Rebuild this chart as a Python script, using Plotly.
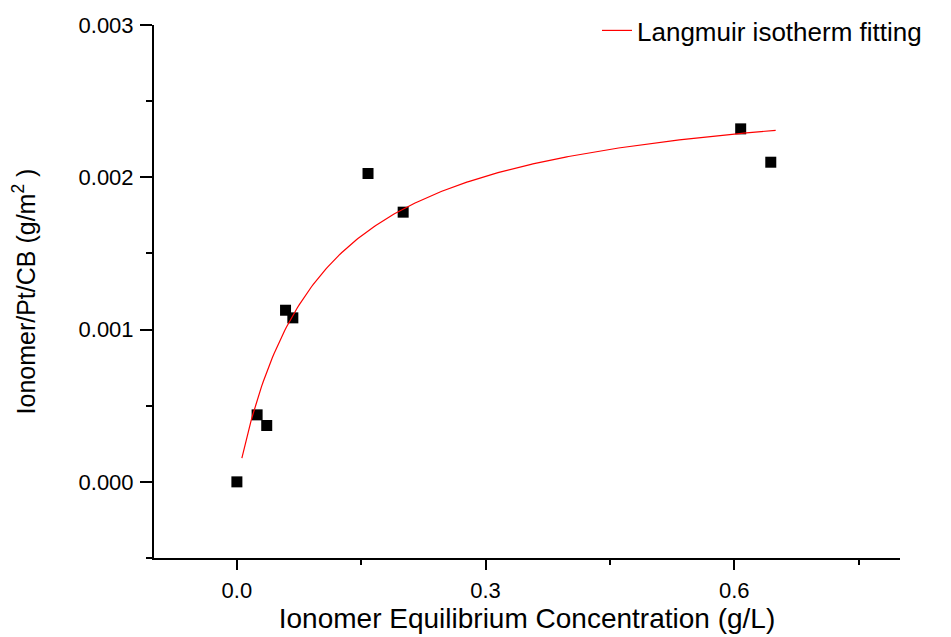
import numpy as np
import plotly.graph_objects as go

# Measured adsorption data
conc = [0.0, 0.0244, 0.0360, 0.0587, 0.0675, 0.1582, 0.2006, 0.6078, 0.6441]
adsorbed = [0.0, 0.000440, 0.000370, 0.001127, 0.001077, 0.002025, 0.001771, 0.002318, 0.002099]

# Langmuir fit parameters: q = qm*K*c / (1 + K*c)
qm = 0.00265
k_l = 10.4
fit_c_min, fit_c_max = 0.006, 0.65

fit_c = np.linspace(fit_c_min, fit_c_max, 300)
fit_q = qm * k_l * fit_c / (1 + k_l * fit_c)

FONT = "Liberation Sans, Arial, sans-serif"

fig = go.Figure()
fig.add_trace(go.Scatter(
    x=conc, y=adsorbed, mode="markers",
    marker=dict(symbol="square", size=11, color="black"),
    showlegend=False,
))
fig.add_trace(go.Scatter(
    x=fit_c, y=fit_q, mode="lines",
    line=dict(color="#ff0000", width=1.2),
    name="Langmuir isotherm fitting",
))

fig.update_layout(
    width=951, height=637,
    margin=dict(l=154, r=51, t=25, b=79, autoexpand=False),
    plot_bgcolor="white", paper_bgcolor="white",
    font=dict(family=FONT, color="black"),
    legend=dict(
        x=(597 - 154) / 746, y=0.989, yref="container",
        xanchor="left", yanchor="top",
        font=dict(size=26, family=FONT), bgcolor="rgba(0,0,0,0)",
    ),
    xaxis=dict(
        range=[-0.1, 0.8], tick0=0, dtick=0.3, tickformat=".1f",
        showgrid=False, zeroline=False, automargin=False,
        showline=True, linecolor="black", linewidth=2,
        ticks="outside", ticklen=10, tickwidth=2, tickcolor="black",
        minor=dict(dtick=0.15, tick0=0, ticks="outside", ticklen=5, tickwidth=2, tickcolor="black"),
        tickfont=dict(size=22),
        ticklabelstandoff=2,
        title=dict(text="Ionomer Equilibrium Concentration (g/L)", font=dict(size=28), standoff=5),
    ),
    yaxis=dict(
        range=[-0.0005, 0.003], tick0=0, dtick=0.001, tickformat=".3f",
        showgrid=False, zeroline=False, automargin=False,
        showline=True, linecolor="black", linewidth=2,
        ticks="outside", ticklen=12, tickwidth=2, tickcolor="black",
        minor=dict(dtick=0.0005, tick0=0, ticks="outside", ticklen=6, tickwidth=2, tickcolor="black"),
        tickfont=dict(size=22),
        ticklabelstandoff=2,
        title=dict(text="Ionomer/Pt/CB (g/m<sup>2</sup> )", font=dict(size=25), standoff=36),
    ),
)

fig.write_html("out.html")
